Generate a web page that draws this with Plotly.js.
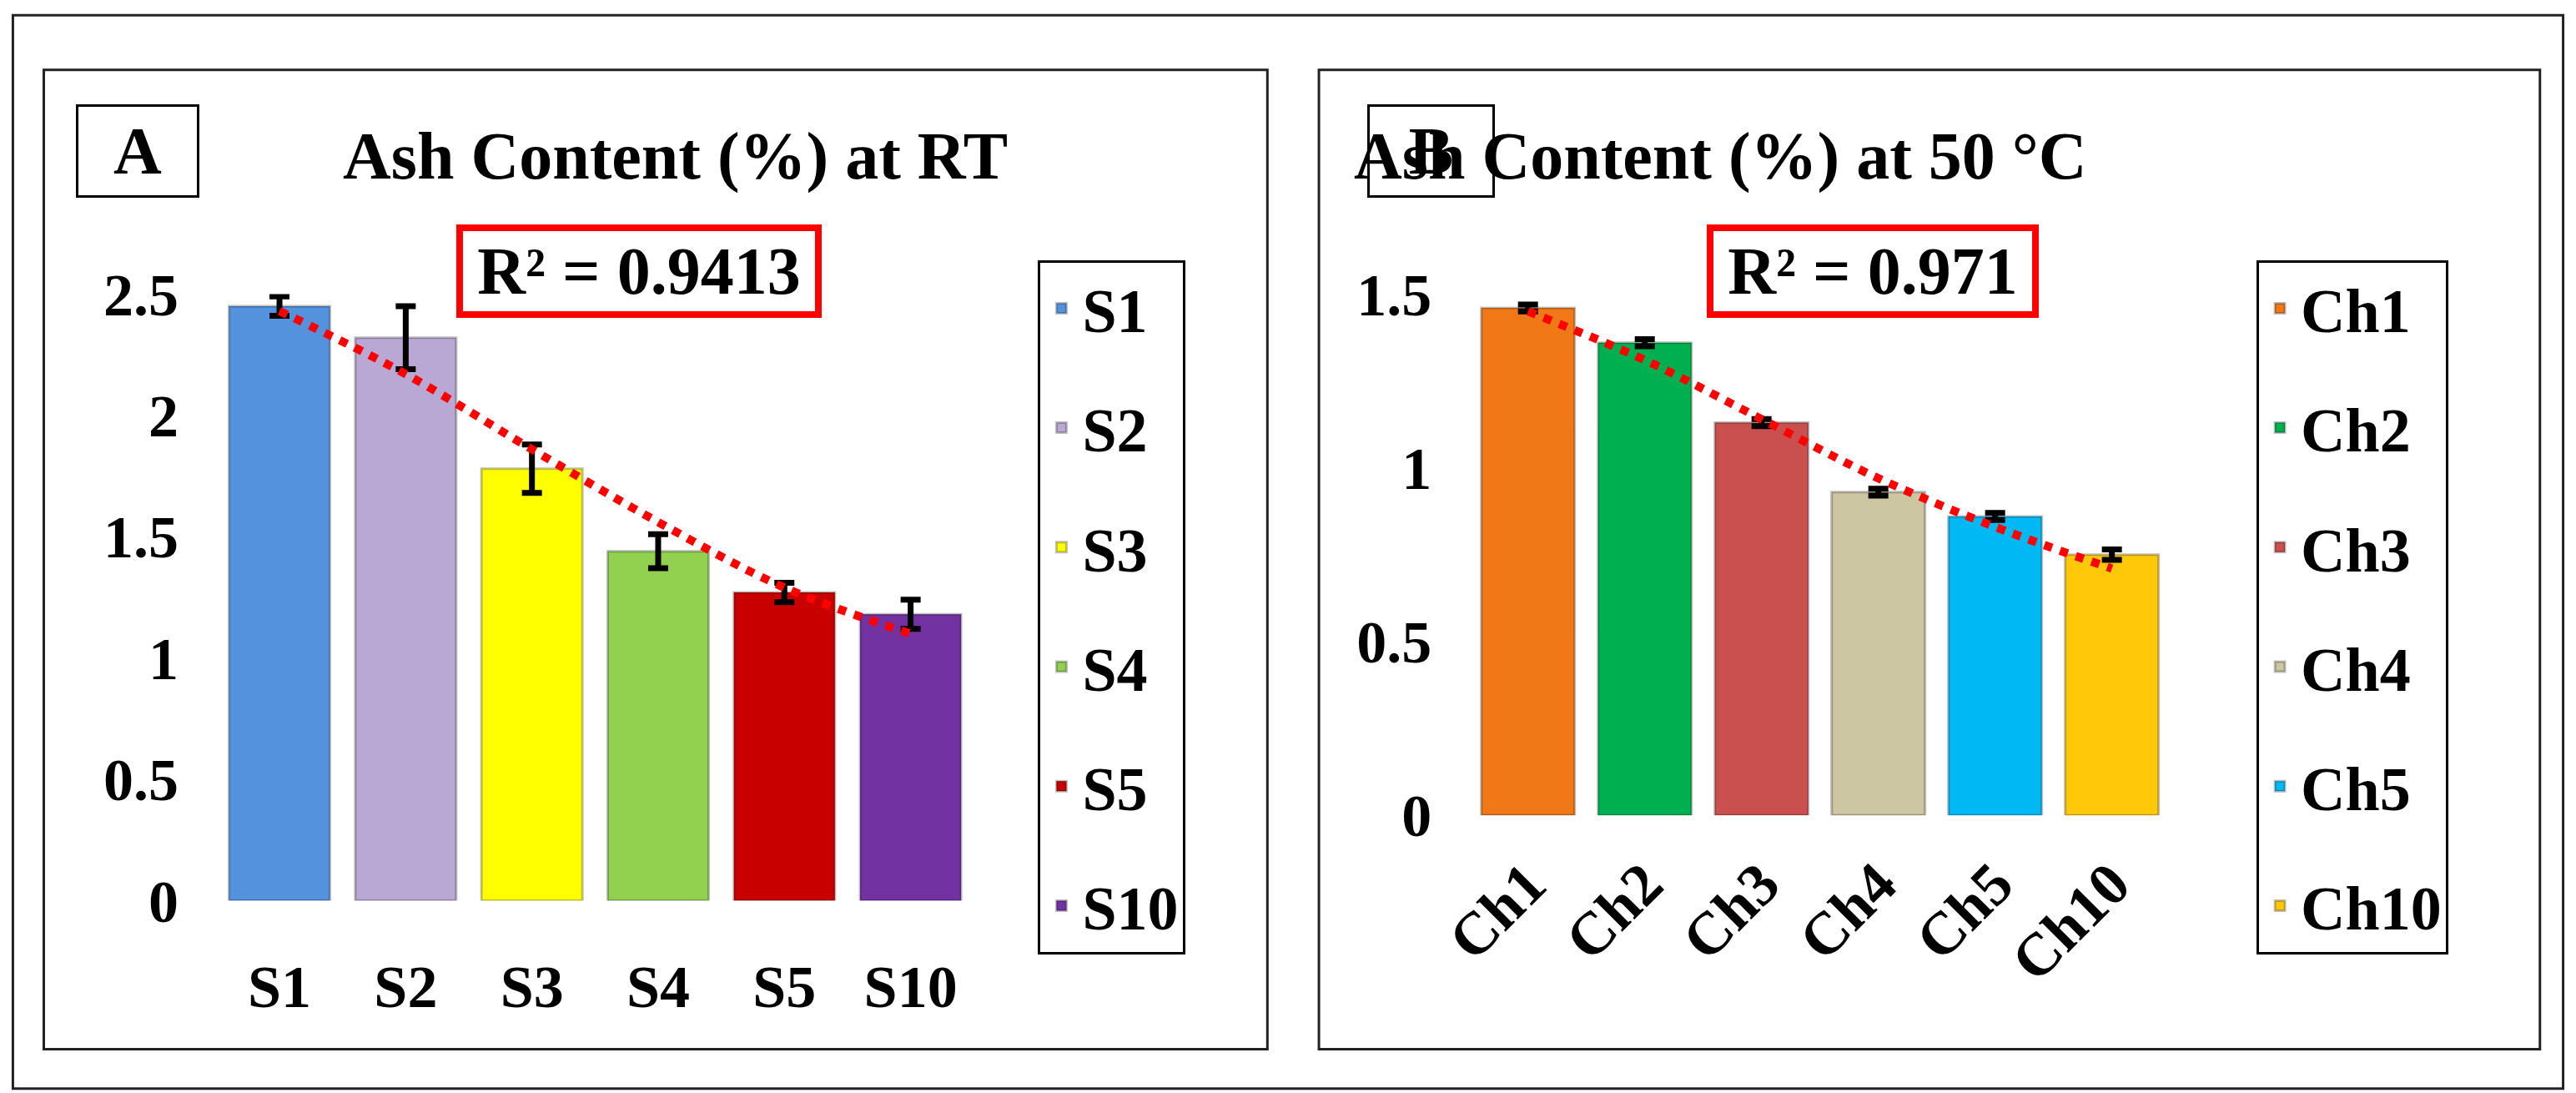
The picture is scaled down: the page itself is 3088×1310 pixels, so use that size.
<!DOCTYPE html>
<html>
<head>
<meta charset="utf-8">
<script src="https://cdn.plot.ly/plotly-3.0.1.min.js"></script>
<style>body{margin:0;background:#fff}#chart{width:3088px;height:1310px}</style>
</head>
<body>
<div id="chart"></div>
<script>
// panel A, room temperature
var catsA = ['S1', 'S2', 'S3', 'S4', 'S5', 'S10'];
var ashA = [2.45, 2.32, 1.78, 1.44, 1.27, 1.18];
var errA = [0.04, 0.13, 0.10, 0.07, 0.04, 0.06];
var trendA = [2.43, 2.17, 1.86, 1.56, 1.29, 1.10];
var colorsA = ['#5592de', '#b9a8d4', '#ffff00', '#92d050', '#c80000', '#7232a2'];

// panel B, 50 °C
var catsB = ['Ch1', 'Ch2', 'Ch3', 'Ch4', 'Ch5', 'Ch10'];
var ashB = [1.46, 1.36, 1.13, 0.93, 0.86, 0.75];
var errB = [0.01, 0.01, 0.01, 0.01, 0.01, 0.015];
var trendB = [1.45, 1.31, 1.14, 0.97, 0.83, 0.71];
var colorsB = ['#f07817', '#00b050', '#c9504f', '#cdc6a2', '#00b8f4', '#ffc90a'];

var serif = 'Liberation Serif, Times New Roman, serif';
var data = [];

function addBars(cats, vals, errs, cols, xa, ya, leg) {
  for (var i = 0; i < cats.length; i++) {
    data.push({
      type: 'bar', x: [cats[i]], y: [vals[i]], name: cats[i],
      xaxis: xa, yaxis: ya, legend: leg, legendgroup: leg + i,
      marker: {color: cols[i], line: {color: 'rgba(0,0,0,0.25)', width: 3}},
      error_y: {type: 'data', array: [errs[i]], color: '#000', thickness: 7, width: 12},
      cliponaxis: false
    });
  }
}
addBars(catsA, ashA, errA, colorsA, 'x', 'y', 'legend');
addBars(catsB, ashB, errB, colorsB, 'x2', 'y2', 'legend2');

data.push({type: 'scatter', mode: 'lines', x: catsA, y: trendA, xaxis: 'x', yaxis: 'y',
  line: {color: '#ff0000', width: 10, dash: 'dot', shape: 'spline'}, showlegend: false, cliponaxis: false});
data.push({type: 'scatter', mode: 'lines', x: catsB, y: trendB, xaxis: 'x2', yaxis: 'y2',
  line: {color: '#ff0000', width: 10, dash: 'dot', shape: 'spline'}, showlegend: false, cliponaxis: false});

var tickF = {family: serif, size: 72, color: '#000', weight: 'bold'};
var legF = {family: serif, size: 74, color: '#000', weight: 'bold'};
var bigF = {family: serif, size: 80, color: '#000', weight: 'bold'};

var layout = {
  width: 3088, height: 1310,
  margin: {l: 0, r: 0, t: 0, b: 0},
  paper_bgcolor: '#fff', plot_bgcolor: 'rgba(0,0,0,0)',
  barmode: 'overlay', bargap: 0.2,
  xaxis: {domain: [0.084, 0.378], tickfont: tickF, showgrid: false, ticks: 'outside', ticklen: 40, tickcolor: 'rgba(0,0,0,0)'},
  yaxis: {domain: [0.176, 0.731], range: [0, 2.5], dtick: 0.5, tickfont: tickF, showgrid: false, zeroline: false, ticks: 'outside', ticklen: 30, tickcolor: 'rgba(0,0,0,0)', anchor: 'x'},
  xaxis2: {domain: [0.5705, 0.8425], tickfont: tickF, tickangle: -45, showgrid: false, ticks: 'outside', ticklen: 10, tickcolor: 'rgba(0,0,0,0)', anchor: 'y2'},
  yaxis2: {domain: [0.254, 0.731], range: [0, 1.5], dtick: 0.5, tickfont: tickF, showgrid: false, zeroline: false, ticks: 'outside', ticklen: 30, tickcolor: 'rgba(0,0,0,0)', anchor: 'x2'},
  legend: {x: 0.403, y: 0.762, xanchor: 'left', yanchor: 'top', bordercolor: '#000', borderwidth: 3,
    font: legF, traceorder: 'grouped', tracegroupgap: 44, itemwidth: 40, bgcolor: '#fff'},
  legend2: {x: 0.876, y: 0.762, xanchor: 'left', yanchor: 'top', bordercolor: '#000', borderwidth: 3,
    font: legF, traceorder: 'grouped', tracegroupgap: 44, itemwidth: 40, bgcolor: '#fff'},
  shapes: [
    {type: 'rect', xref: 'paper', yref: 'paper', x0: 0.005, x1: 0.995, y0: 0.004, y1: 0.986, line: {color: '#222', width: 3}},
    {type: 'rect', xref: 'paper', yref: 'paper', x0: 0.017, x1: 0.492, y0: 0.040, y1: 0.936, line: {color: '#222', width: 3}},
    {type: 'rect', xref: 'paper', yref: 'paper', x0: 0.512, x1: 0.986, y0: 0.040, y1: 0.936, line: {color: '#222', width: 3}}
  ],
  annotations: [
    {xref: 'paper', yref: 'paper', x: 0.0535, y: 0.862, xanchor: 'center', yanchor: 'middle', text: 'A', showarrow: false,
      font: bigF, bordercolor: '#000', borderwidth: 3, width: 140, height: 104, bgcolor: '#fff'},
    {xref: 'paper', yref: 'paper', x: 0.262, y: 0.857, xanchor: 'center', yanchor: 'middle', text: 'Ash Content (%) at RT', showarrow: false,
      font: bigF},
    {xref: 'paper', yref: 'paper', x: 0.248, y: 0.752, xanchor: 'center', yanchor: 'middle', text: 'R² = 0.9413', showarrow: false,
      font: bigF, bordercolor: '#ff0000', borderwidth: 8, width: 420, height: 94, bgcolor: '#fff'},
    {xref: 'paper', yref: 'paper', x: 0.5555, y: 0.862, xanchor: 'center', yanchor: 'middle', text: 'B', showarrow: false,
      font: bigF, bordercolor: '#000', borderwidth: 3, width: 145, height: 104, bgcolor: '#fff'},
    {xref: 'paper', yref: 'paper', x: 0.668, y: 0.857, xanchor: 'center', yanchor: 'middle', text: 'Ash Content (%) at 50 °C', showarrow: false,
      font: bigF},
    {xref: 'paper', yref: 'paper', x: 0.727, y: 0.752, xanchor: 'center', yanchor: 'middle', text: 'R² = 0.971', showarrow: false,
      font: bigF, bordercolor: '#ff0000', borderwidth: 8, width: 380, height: 94, bgcolor: '#fff'}
  ]
};

Plotly.newPlot('chart', data, layout, {staticPlot: true});
</script>
</body>
</html>
